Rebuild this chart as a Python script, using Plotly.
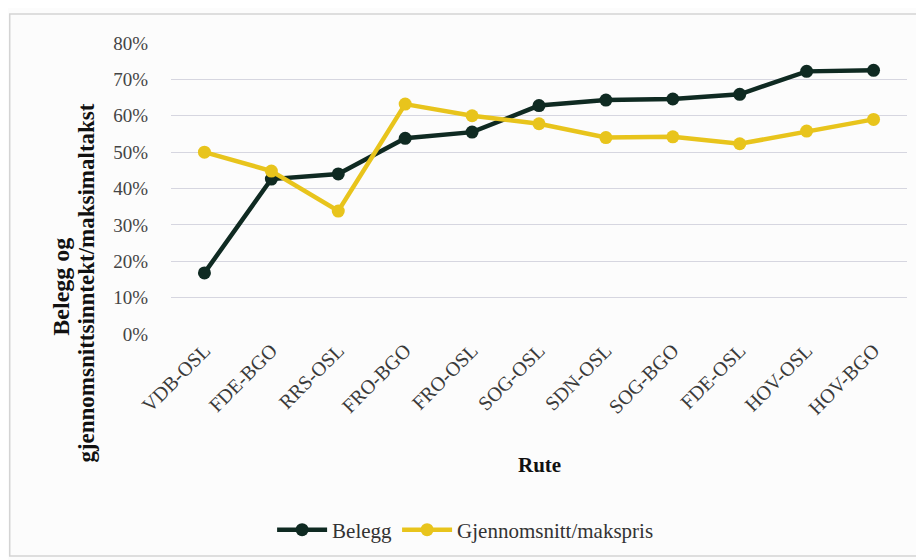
import plotly.graph_objects as go

routes = ["VDB-OSL", "FDE-BGO", "RRS-OSL", "FRO-BGO", "FRO-OSL", "SOG-OSL",
          "SDN-OSL", "SOG-BGO", "FDE-OSL", "HOV-OSL", "HOV-BGO"]
belegg = [0.168, 0.426, 0.440, 0.538, 0.555, 0.628, 0.643, 0.646, 0.659, 0.722, 0.725]
gjennomsnitt = [0.50, 0.448, 0.338, 0.632, 0.600, 0.578, 0.540, 0.542, 0.523, 0.558, 0.590]
y_ticks = [0, 0.1, 0.2, 0.3, 0.4, 0.5, 0.6, 0.7, 0.8]

SERIF = "Liberation Serif, Times New Roman, serif"
DARK = "#0f2a22"
YELLOW = "#e8c41c"

fig = go.Figure()
fig.add_trace(go.Scatter(
    x=routes, y=belegg, name="Belegg", mode="lines+markers",
    line=dict(color=DARK, width=4.5), marker=dict(color=DARK, size=13)))
fig.add_trace(go.Scatter(
    x=routes, y=gjennomsnitt, name="Gjennomsnitt/makspris", mode="lines+markers",
    line=dict(color=YELLOW, width=4.5), marker=dict(color=YELLOW, size=13)))

OFF = 8  # page body margin
FW, FH = 924 - OFF, 560 - OFF
# target page-pixel positions of plot area
L, R, T, B = 170.5, 907.5, 43, 334
W = R - L
H = B - T
def px(x):
    return (x - L) / W
def py(y):
    return (B - y) / H

fig.update_layout(
    width=FW, height=FH,
    margin=dict(l=L - OFF, r=924 - R, t=T - OFF, b=560 - B, autoexpand=False),
    paper_bgcolor="#fcfcfc", plot_bgcolor="#fcfcfc",
    font=dict(family=SERIF, color="#444444", size=18),
    showlegend=True,
    legend=dict(orientation="h", x=px(465), xanchor="center", y=py(530), yanchor="middle",
                font=dict(family=SERIF, size=21, color="#333333"), itemwidth=50,
                bgcolor="rgba(0,0,0,0)"),
    xaxis=dict(tickangle=-45, showgrid=False, zeroline=False, showline=False,
               tickfont=dict(family=SERIF, size=20, color="#3a3a3a"),
               range=[-0.5, 10.5]),
    yaxis=dict(range=[0, 0.8], tickvals=y_ticks, tickformat=".0%",
               showgrid=True, gridcolor="#d6d6e0", gridwidth=1.2,
               zeroline=False, showline=False, ticks="", ticklabelstandoff=22,
               tickfont=dict(family=SERIF, size=19, color="#444444")),
    shapes=[dict(type="rect", xref="paper", yref="paper",
                 x0=px(9), x1=px(918), y0=py(556), y1=py(14),
                 line=dict(color="#d4d4d4", width=1.5), layer="below")],
    annotations=[
        dict(text="<b>Belegg og</b>", xref="paper", yref="paper",
             x=px(60), y=py(287), textangle=-90, showarrow=False,
             xanchor="center", yanchor="middle",
             font=dict(family=SERIF, size=24, color="#111111")),
        dict(text="<b>gjennomsnittsinntekt/maksimaltakst</b>", xref="paper", yref="paper",
             x=px(85), y=py(283), textangle=-90, showarrow=False,
             xanchor="center", yanchor="middle",
             font=dict(family=SERIF, size=23, color="#111111")),
        dict(text="<b>Rute</b>", xref="paper", yref="paper",
             x=px(540), y=py(465), showarrow=False,
             xanchor="center", yanchor="middle",
             font=dict(family=SERIF, size=21, color="#111111")),
    ],
)

fig.write_html("out.html")
